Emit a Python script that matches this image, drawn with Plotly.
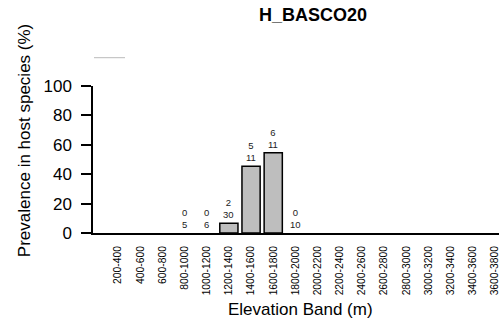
import plotly.graph_objects as go

bands = ["200-400", "400-600", "600-800", "800-1000", "1000-1200", "1200-1400",
         "1400-1600", "1600-1800", "1800-2000", "2000-2200", "2200-2400", "2400-2600",
         "2600-2800", "2800-3000", "3000-3200", "3200-3400", "3400-3600", "3600-3800"]
n_pos = [None, None, None, 0, 0, 2, 5, 6, 0, None, None, None, None, None, None, None, None, None]
n_tot = [None, None, None, 5, 6, 30, 11, 11, 10, None, None, None, None, None, None, None, None, None]

prev = [100.0 * p / t if (p is not None and t) else 0.0 for p, t in zip(n_pos, n_tot)]

FONT = "Liberation Sans, Arial"
L, T, PW, PH = 93, 85.5, 406, 148


def px(x):
    return (x - L) / PW


def py(y):
    return (T + PH - y) / PH


fig = go.Figure()
fig.add_trace(go.Bar(
    x=list(range(len(bands))), y=prev,
    marker=dict(color="#BEBEBE",
                line=dict(color="black", width=[1.5 if v > 0 else 0 for v in prev])),
    width=0.82, showlegend=False, hoverinfo="skip"))

for i, (p, t) in enumerate(zip(n_pos, n_tot)):
    if p is None:
        continue
    fig.add_annotation(x=i, y=prev[i], text=f"{p}<br>{t}", showarrow=False,
                       yanchor="bottom", yshift=1,
                       font=dict(family=FONT, size=9.5, color="#222"))

fig.add_annotation(x=px(313), xref="paper", y=py(14), yref="paper", yanchor="middle",
                   xanchor="center", text="<b>H_BASCO20</b>", showarrow=False,
                   font=dict(family=FONT, size=18, color="black"))
fig.add_annotation(x=px(300), xref="paper", y=py(311), yref="paper", yanchor="middle",
                   xanchor="center", text="Elevation Band (m)", showarrow=False,
                   font=dict(family=FONT, size=17, color="black"))
fig.add_annotation(x=px(24), xref="paper", y=py(141), yref="paper", yanchor="middle",
                   xanchor="center", text="Prevalence in host species (%)", showarrow=False,
                   textangle=-90, font=dict(family=FONT, size=17, color="black"))

fig.add_shape(type="line", xref="paper", yref="paper", x0=px(94), x1=px(125),
              y0=py(57), y1=py(57), line=dict(color="#BBBBBB", width=1))

fig.update_layout(
    width=499, height=324,
    margin=dict(l=L, r=499 - L - PW, t=T, b=324 - T - PH),
    plot_bgcolor="white", paper_bgcolor="white",
    font=dict(family=FONT, color="black"),
    xaxis=dict(range=[-1.127, 17.18], tickvals=list(range(len(bands))), ticktext=bands,
               tickangle=-90, tickfont=dict(size=10.3), showline=True, linecolor="black",
               linewidth=2, ticks="outside", ticklen=7, tickcolor="rgba(0,0,0,0)",
               ticklabeloverflow="allow",
               showgrid=False, zeroline=False),
    yaxis=dict(range=[0, 100], tickvals=[0, 20, 40, 60, 80, 100], showline=True,
               linecolor="black", linewidth=1.5, ticks="outside", ticklen=10,
               tickwidth=1.5, tickcolor="black", tickfont=dict(size=17),
               ticklabelstandoff=6, ticklabeloverflow="allow",
               showgrid=False, zeroline=False),
)

fig.write_html("out.html")
